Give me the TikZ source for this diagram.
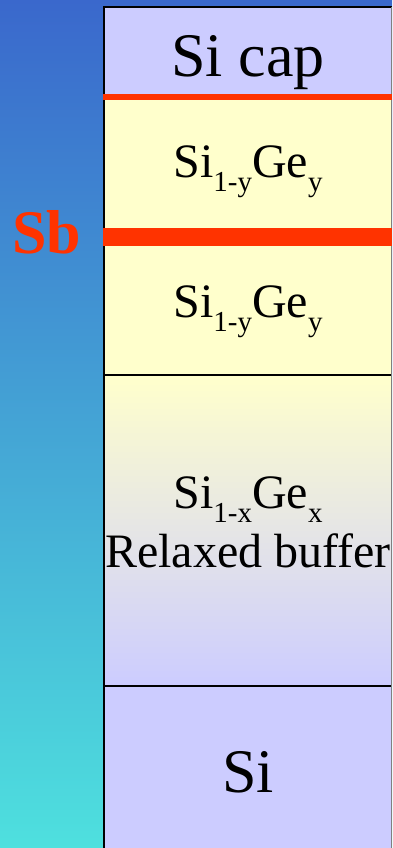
\documentclass[tikz,border=0pt]{standalone}
\usepackage{fontspec}
\setmainfont{Liberation Serif}
\newfontfamily\layerfont{Liberation Serif}
\usetikzlibrary{positioning}

\definecolor{lavender}{RGB}{204,204,255}
\definecolor{paleyellow}{RGB}{255,255,204}
\definecolor{dopant}{RGB}{255,51,0}
\definecolor{bgtop}{RGB}{58,104,204}
\definecolor{bgbottom}{RGB}{78,224,222}

% lowered, smaller index for the alloy labels
\newcommand{\layersub}[1]{\raisebox{-14pt}{\fontsize{29}{29}\selectfont #1}}

\begin{document}
\begin{tikzpicture}[x=1pt, y=-1pt,
    bigtext/.style={font=\layerfont\fontsize{62}{62}\selectfont, anchor=base, inner sep=0pt},
    midtext/.style={font=\layerfont\fontsize{48}{48}\selectfont, anchor=base, inner sep=0pt},
    border/.style={line width=2.5pt, black},
    deltadope/.style={dopant}]
    \useasboundingbox (0,0) rectangle (392,848);

    % Background
    \shade[top color=bgtop, bottom color=bgbottom] (0,0) rectangle (392,848);

    % Layers
    \fill[lavender] (104,7) rectangle (392,97);
    \fill[paleyellow] (104,97) rectangle (392,375);
    \shade[top color=paleyellow, bottom color=lavender] (104,375) rectangle (392,686);
    \fill[lavender] (104,686) rectangle (392,848);

    % Interfaces
    \draw[border] (104,848) -- (104,7) -- (392,7);
    \draw[border] (104,375) -- (392,375);
    \draw[border] (104,686) -- (392,686);
    \draw[gray, line width=1pt] (391.5,7) -- (391.5,848);

    % Sb delta layers
    \draw[deltadope, line width=6pt] (103,97) -- (392,97);
    \draw[deltadope, line width=18pt] (103,237) -- (392,237);

    % Labels
    \node[bigtext] (cap) at (248,77) {Si cap};
    \node[midtext] (upper) at (248,177) {Si\layersub{1-y}Ge\layersub{y}};
    \node[midtext] (lower) at (248,317) {Si\layersub{1-y}Ge\layersub{y}};
    \node[midtext] (alloy) at (248,508) {Si\layersub{1-x}Ge\layersub{x}};
    \node[midtext] (buffer) at (248,567) {Relaxed buffer};
    \node[bigtext] (substrate) at (248,792) {Si};
    \node[bigtext, text=dopant, font=\layerfont\fontsize{62}{62}\selectfont\bfseries] (sb) at (47,253) {Sb};
\end{tikzpicture}
\end{document}
